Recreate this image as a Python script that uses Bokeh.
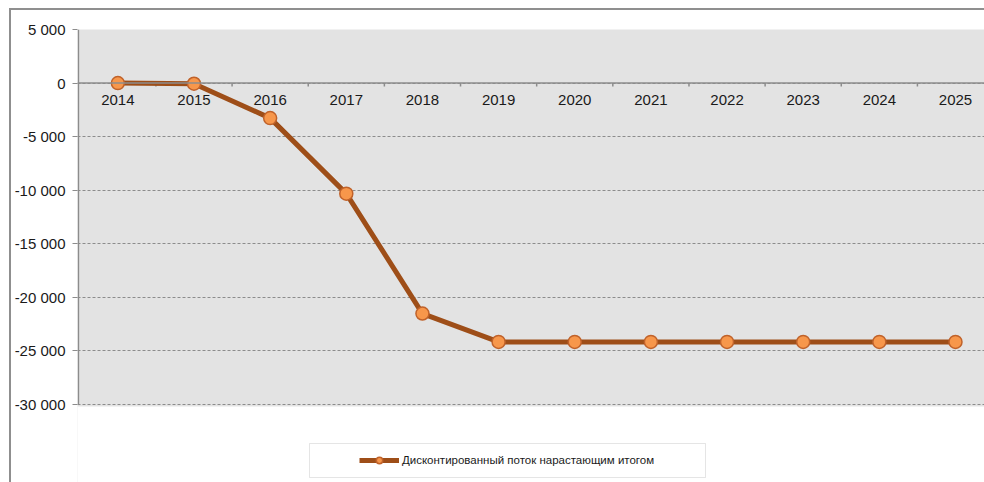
from bokeh.plotting import figure
from bokeh.models import (Legend, LegendItem, FixedTicker, Span, BoxAnnotation,
                          ColumnDataSource, Range1d, InlineStyleSheet)
from bokeh.core.properties import value
from bokeh.embed import file_html
from bokeh.resources import INLINE

# ---- data ----
years = [2014, 2015, 2016, 2017, 2018, 2019, 2020, 2021, 2022, 2023, 2024, 2025]
year_labels = [str(y) for y in years]
cum_flow = [0, -60, -3270, -10320, -21510, -24160, -24160, -24160, -24160, -24160, -24160, -24160]
y_ticks = [-30000, -25000, -20000, -15000, -10000, -5000, 0, 5000]
y_tick_labels = ["-30 000", "-25 000", "-20 000", "-15 000", "-10 000", "-5 000", "0", "5 000"]
legend_label = "Дисконтированный поток нарастающим итогом"

FONT = "Liberation Sans"
GRAY = "#8c8c8c"
TXT = "#1a1a1a"

# outer chart-area border (left and top edges), drawn over the canvas
frame_css = InlineStyleSheet(css="""
:host::after {
  content: "";
  position: absolute;
  left: 9px; top: 8px; right: 0; bottom: 0;
  border-left: 2px solid #8f8f8f;
  border-top: 2px solid #8f8f8f;
  pointer-events: none;
}
""")

# plot frame runs to the bottom of the canvas; area below the lowest tick is painted white
X0 = 2013.47
Y_MIN = -37280
p = figure(width=984, height=482, output_backend="svg", toolbar_location=None,
           x_range=Range1d(X0, 2025.381), y_range=Range1d(Y_MIN, y_ticks[-1]),
           min_border_left=77, min_border_right=0, min_border_top=29, min_border_bottom=0,
           stylesheets=[frame_css])

p.background_fill_color = "#e3e3e3"
p.border_fill_color = "white"
p.outline_line_color = None
p.xaxis.visible = False
p.xgrid.visible = False

p.ygrid.ticker = FixedTicker(ticks=y_ticks)
p.ygrid.grid_line_color = GRAY
p.ygrid.grid_line_dash = "3 2"
p.ygrid.grid_line_width = 1

# white area under the value range
p.add_layout(BoxAnnotation(left=0, right=984, top=406, bottom=482,
                           left_units="canvas", right_units="canvas",
                           top_units="canvas", bottom_units="canvas",
                           fill_color="white", fill_alpha=1,
                           line_alpha=0, level="underlay"))

ya = p.yaxis[0]
ya.ticker = FixedTicker(ticks=y_ticks)
ya.major_label_overrides = {t: l for t, l in zip(y_ticks, y_tick_labels)}
ya.axis_line_color = None
ya.major_tick_line_color = GRAY
ya.major_tick_out = 5
ya.major_tick_in = 0
ya.minor_tick_line_color = None
ya.major_label_standoff = 7
ya.major_label_text_font = FONT
ya.major_label_text_font_size = "15px"
ya.major_label_text_color = TXT

# value-axis line, only over the value range
p.segment(x0=[X0 + 0.012], y0=[y_ticks[0]], x1=[X0 + 0.012], y1=[y_ticks[-1]],
          line_color=GRAY, line_width=1.5)

# zero axis line
p.add_layout(Span(location=0, dimension="width", line_color=GRAY, line_width=1.5))

# category boundary tick marks on the zero line
bounds = [y + 0.5 for y in years[:-1]]
p.segment(x0=bounds, y0=[0] * len(bounds), x1=bounds, y1=[-330] * len(bounds),
          line_color=GRAY, line_width=1.5)

# year labels under the zero line
p.text(x=years, y=[0] * len(years), text=year_labels, y_offset=12,
       text_align="center", text_baseline="top", text_font=value(FONT),
       text_font_size="15px", text_color=TXT)

src = ColumnDataSource(dict(x=years, y=cum_flow))
line_r = p.line("x", "y", source=src, line_color="#9e4e18", line_width=5)
sc_r = p.scatter("x", "y", source=src, size=13, fill_color="#f7974b",
                 line_color="#c0622a", line_width=1.5)

legend = Legend(items=[LegendItem(label=legend_label, renderers=[line_r, sc_r])],
                location=(282, 14), orientation="horizontal",
                border_line_alpha=0, background_fill_alpha=0,
                label_text_font=FONT, label_text_font_size="11.5px",
                label_text_color=TXT,
                glyph_width=40, glyph_height=16, padding=0, margin=0,
                label_standoff=3)
p.add_layout(legend)

# legend frame
p.add_layout(BoxAnnotation(left=309, right=705, top=443, bottom=477,
                           left_units="canvas", right_units="canvas",
                           top_units="canvas", bottom_units="canvas",
                           fill_alpha=0, line_color="#a8a8a8", line_width=1))

open("out.html", "w").write(file_html(p, INLINE))
